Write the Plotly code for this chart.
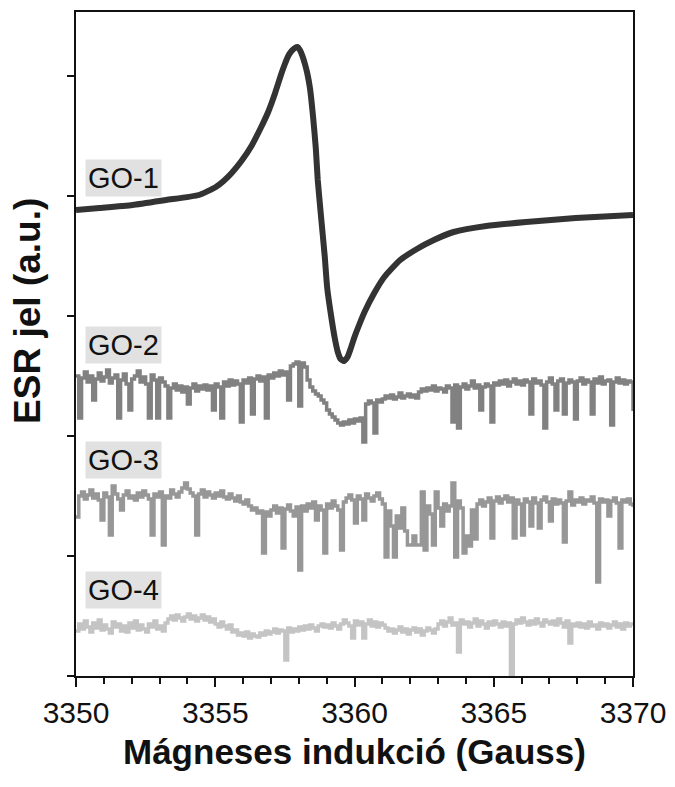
import numpy as np
import plotly.graph_objects as go

# ---- data ----
# GO-1: smooth derivative ESR line (field in Gauss, signal in a.u.)
go1_x = [3350.0, 3350.85, 3352.03, 3353.24, 3354.41, 3355.02, 3355.30, 3355.59, 3355.94, 3356.30,
         3356.65, 3356.90, 3357.15, 3357.37, 3357.50, 3357.62, 3357.74, 3357.86, 3357.95, 3358.04,
         3358.13, 3358.22, 3358.31, 3358.40, 3358.51, 3358.61, 3358.68, 3358.79, 3358.93, 3359.02,
         3359.15, 3359.29, 3359.40, 3359.50, 3359.62, 3359.75, 3359.87, 3360.00, 3360.18, 3360.36,
         3360.71, 3361.07, 3361.64, 3362.24, 3362.85, 3363.56, 3364.73, 3366.16, 3367.94, 3370.00]
go1_y = [466, 468, 471, 476, 481, 489, 495, 503, 515, 530,
         549, 564, 583, 602, 612, 620, 625, 628, 629, 626,
         620, 612, 602, 588, 560, 528, 496, 462, 420, 388,
         362, 338, 324, 317, 315, 319, 328, 339, 352, 364,
         383, 399, 416, 427, 436, 444, 450, 454, 458, 461]

# noisy spectra sampled every 0.1 G from 3350 to 3370
field = np.round(np.linspace(3350, 3370, 201), 1)

go2_y = [300, 258, 298, 304, 294, 300, 276, 297, 303, 295,
         299, 306, 293, 298, 301, 258, 296, 302, 292, 266,
         297, 300, 305, 294, 299, 292, 258, 301, 296, 258,
         298, 294, 290, 258, 288, 292, 286, 290, 284, 289,
         272, 288, 292, 285, 290, 287, 291, 286, 290, 266,
         292, 289, 258, 294, 290, 296, 291, 295, 292, 254,
         296, 293, 298, 262, 297, 300, 295, 299, 258, 301,
         298, 303, 300, 305, 301, 304, 276, 310, 312, 314,
         270, 313, 309, 296, 289, 285, 282, 280, 276, 273,
         266, 262, 259, 256, 253, 251, 254, 252, 256, 253,
         257, 255, 258, 234, 272, 275, 273, 243, 276, 274,
         277, 280, 278, 281, 277, 279, 283, 278, 280, 282,
         279, 281, 278, 284, 287, 285, 288, 286, 290, 285,
         288, 287, 284, 290, 288, 254, 291, 248, 289, 292,
         287, 290, 295, 288, 291, 266, 289, 292, 290, 254,
         293, 291, 295, 292, 296, 290, 294, 297, 292, 295,
         291, 296, 294, 262, 297, 293, 295, 291, 248, 294,
         298, 292, 266, 295, 297, 262, 293, 296, 294, 257,
         295, 298, 292, 296, 294, 262, 297, 293, 299, 292,
         295, 296, 251, 294, 298, 293, 296, 292, 295, 294,
         265]

go3_y = [159, 180, 184, 177, 181, 186, 178, 182, 176, 156,
         183, 179, 141, 190, 182, 177, 166, 181, 185, 178,
         180, 176, 183, 179, 185, 181, 177, 141, 182, 179,
         184, 131, 180, 178, 186, 182, 179, 184, 188, 193,
         187, 183, 180, 141, 182, 186, 179, 184, 181, 178,
         183, 180, 185, 179, 177, 182, 178, 175, 180, 174,
         172, 176, 170, 166, 168, 163, 165, 123, 164, 160,
         166, 170, 163, 168, 128, 167, 171, 165, 160, 169,
         106, 170, 165, 172, 168, 174, 156, 170, 166, 123,
         172, 168, 175, 170, 166, 126, 174, 178, 181, 176,
         153, 180, 177, 156, 182, 178, 175, 180, 183, 177,
         172, 119, 165, 150, 119, 160, 148, 168, 145, 131,
         131, 140, 131, 131, 184, 126, 170, 162, 131, 184,
         168, 150, 172, 165, 170, 193, 119, 175, 168, 123,
         140, 130, 166, 137, 172, 176, 170, 174, 178, 138,
         175, 179, 173, 177, 180, 174, 178, 138, 176, 172,
         141, 177, 174, 150, 178, 173, 148, 176, 179, 174,
         155, 177, 172, 176, 173, 134, 175, 184, 171, 176,
         174, 178, 172, 176, 175, 179, 173, 94, 177, 174,
         176, 160, 175, 178, 173, 128, 176, 174, 177, 172,
         169]

go4_y = [45, 52, 47, 55, 49, 44, 53, 48, 56, 46,
         51, 47, 43, 54, 49, 52, 45, 50, 44, 53,
         48, 55, 46, 51, 47, 44, 52, 49, 55, 47,
         50, 45, 53, 57, 60, 56, 61, 58, 55, 59,
         62, 57, 60, 55, 58, 61, 56, 59, 54, 57,
         52, 49, 54, 50, 47, 51, 44, 46, 41, 43,
         40, 44, 38, 42, 40, 39, 43, 41, 45, 42,
         44, 47, 43, 46, 45, 16, 48, 44, 47, 45,
         49, 46, 50, 47, 51, 48, 45, 50, 52, 49,
         51, 48, 53, 50, 47, 52, 56, 53, 50, 38,
         55, 51, 54, 38, 52, 56, 50, 54, 49, 53,
         51, 48, 45, 47, 43, 46, 49, 44, 47, 42,
         46, 48, 44, 47, 41, 45, 48, 46, 43, 47,
         52, 55, 50, 54, 58, 51, 53, 24, 56, 52,
         54, 49, 53, 57, 50, 55, 52, 48, 54, 51,
         55, 52, 49, 54, 50, 53, 1, 52, 56, 53,
         58, 54, 51, 55, 52, 57, 53, 50, 56, 54,
         52, 55, 51, 57, 53, 49, 55, 33, 52, 50,
         53, 49, 52, 48, 54, 50, 51, 47, 53, 50,
         52, 48, 51, 54, 49, 52, 47, 53, 50, 52,
         51]

labels = ["GO-1", "GO-2", "GO-3", "GO-4"]
label_y = [498, 331, 216, 86]
x_ticks = [3350, 3355, 3360, 3365, 3370]
y_ticks = [0, 120, 240, 360, 480, 600]

# ---- figure ----
FONT = "Liberation Sans, Arial, sans-serif"
fig = go.Figure()
fig.add_trace(go.Scatter(x=field, y=go4_y, mode="lines", line=dict(color="#c4c4c4", width=3.5, shape="hv"), showlegend=False))
fig.add_trace(go.Scatter(x=field, y=go3_y, mode="lines", line=dict(color="#979797", width=3.5, shape="hv"), showlegend=False))
fig.add_trace(go.Scatter(x=field, y=go2_y, mode="lines", line=dict(color="#818181", width=3.5, shape="hv"), showlegend=False))
fig.add_trace(go.Scatter(x=go1_x, y=go1_y, mode="lines",
                         line=dict(color="#333333", width=6, shape="spline", smoothing=0.5), showlegend=False))

for lab, ly in zip(labels, label_y):
    fig.add_annotation(x=3351.7, y=ly, xref="x", yref="y", text=lab, showarrow=False,
                       font=dict(family=FONT, size=29, color="#111111"),
                       bgcolor="#e1e1e1", borderpad=2, xanchor="center", yanchor="middle")

fig.add_annotation(x=-0.086, y=0.55, xref="paper", yref="paper", text="ESR jel (a.u.)",
                   textangle=-90, showarrow=False, xanchor="center", yanchor="middle",
                   font=dict(family=FONT, size=37, color="#111111", weight="bold"))
fig.add_annotation(x=0.5, y=-0.114, xref="paper", yref="paper", text="Mágneses indukció (Gauss)",
                   showarrow=False, xanchor="center", yanchor="middle",
                   font=dict(family=FONT, size=35, color="#111111", weight="bold"))

# the page adds an 8px body margin, so the figure is sized to fit inside the window
fig.update_layout(
    width=667, height=763,
    margin=dict(l=68, r=42, t=4, b=95, autoexpand=False),
    paper_bgcolor="white", plot_bgcolor="white",
    font=dict(family=FONT, color="#111111"),
)
fig.update_xaxes(
    range=[3350, 3370], tickvals=x_ticks, ticktext=[str(v) for v in x_ticks],
    ticks="outside", ticklen=9, tickwidth=2, tickcolor="#111111",
    minor=dict(dtick=1, ticks="outside", ticklen=6, tickwidth=2, tickcolor="#111111", showgrid=False),
    showline=True, linewidth=2, linecolor="#111111", mirror=True,
    showgrid=False, zeroline=False, automargin=False,
    tickfont=dict(family=FONT, size=30, color="#111111"),
)
fig.update_yaxes(
    range=[0, 664], tickvals=y_ticks, showticklabels=False,
    ticks="outside", ticklen=7, tickwidth=2, tickcolor="#111111",
    showline=True, linewidth=2, linecolor="#111111", mirror=True,
    showgrid=False, zeroline=False, automargin=False,
)

fig.write_html("out.html")
